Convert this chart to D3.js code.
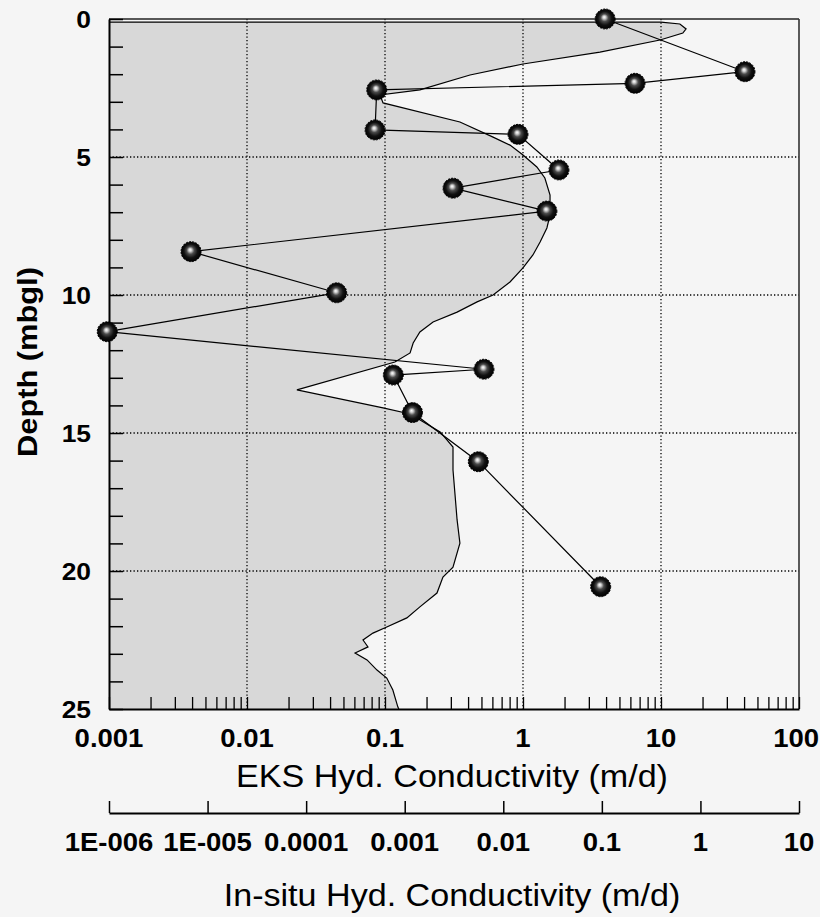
<!DOCTYPE html>
<html>
<head>
<meta charset="utf-8">
<script src="https://cdn.jsdelivr.net/npm/d3@7/dist/d3.min.js"></script>
<style>
  html, body { margin: 0; padding: 0; background: #f5f5f5; }
  svg { display: block; }
  text { font-family: "Liberation Sans", Arial, sans-serif; fill: #000; }
</style>
</head>
<body>
<svg id="chart" width="820" height="917"></svg>
<script>
// ---- Data ----
// EKS hydraulic conductivity profile (depth in m, K in m/d)
const eksDepth = [0.11, 0.18, 0.36, 0.51, 0.76, 1.20, 1.63, 2.03, 2.57, 2.75, 3.04, 3.73, 4.28, 4.57, 4.93, 5.36, 5.76, 6.38, 7.10, 7.57, 8.08, 8.55, 9.02, 9.53, 10.0, 10.25, 10.62, 10.98, 11.34, 11.74, 12.10, 12.43, 13.44, 14.09, 14.31, 14.96, 15.51, 16.34, 18.15, 18.99, 19.86, 20.22, 20.80, 21.30, 21.70, 22.03, 22.25, 22.50, 22.75, 22.97, 23.22, 23.59, 23.88, 24.31, 24.93, 25.0];
const eksK = [10.0, 13.7, 15.2, 14.4, 9.84, 3.61, 1.0, 0.413, 0.179, 0.092, 0.0968, 0.349, 0.607, 0.805, 1.0, 1.26, 1.44, 1.57, 1.57, 1.49, 1.33, 1.18, 1.0, 0.805, 0.607, 0.465, 0.333, 0.223, 0.179, 0.160, 0.152, 0.118, 0.0230, 0.0968, 0.152, 0.251, 0.311, 0.311, 0.333, 0.349, 0.311, 0.263, 0.238, 0.179, 0.144, 0.103, 0.0818, 0.0693, 0.0753, 0.0607, 0.0741, 0.0875, 0.103, 0.114, 0.124, 0.126];

// In-situ hydraulic conductivity tests (depth in m, K in m/d)
const insituDepth = [0, 1.91, 2.33, 2.57, 4.02, 4.18, 5.47, 6.13, 6.96, 8.43, 9.92, 11.33, 12.69, 12.90, 14.26, 16.04, 20.57];
const insituK = [0.108, 2.83, 0.217, 0.00052, 0.0005, 0.0141, 0.0367, 0.00309, 0.0277, 6.8e-6, 0.000204, 9.6e-7, 0.00637, 0.000766, 0.00120, 0.00558, 0.0973];

// Axis tick labels
const eksTicks = [0.001, 0.01, 0.1, 1, 10, 100];
const eksTickLabels = ["0.001", "0.01", "0.1", "1", "10", "100"];
const insituTicks = [1e-6, 1e-5, 1e-4, 1e-3, 1e-2, 1e-1, 1, 10];
const insituTickLabels = ["1E-006", "1E-005", "0.0001", "0.001", "0.01", "0.1", "1", "10"];
const depthTicks = [0, 5, 10, 15, 20, 25];
const depthTickLabels = ["0", "5", "10", "15", "20", "25"];

const xTitle = "EKS Hyd. Conductivity (m/d)";
const x2Title = "In-situ Hyd. Conductivity (m/d)";
const yTitle = "Depth (mbgl)";

// ---- Layout ----
const L = 109, R = 799, T = 19, B = 709;
const SX = 1.1; // horizontal text stretch

const svg = d3.select("#chart");
const x = d3.scaleLog().domain([0.001, 100]).range([L, R]);
const xIn = d3.scaleLog().domain([1e-6, 10]).range([L, R]);
const y = d3.scaleLinear().domain([0, 25]).range([T, B]);

// gradient for markers
const defs = svg.append("defs");
const g = defs.append("radialGradient").attr("id", "ball")
  .attr("cx", "50%").attr("cy", "50%").attr("r", "50%")
  .attr("fx", "45%").attr("fy", "40%");
[[0, "#ffffff"], [0.15, "#cfcfcf"], [0.38, "#4a4a4a"], [0.68, "#111"], [1, "#000"]]
  .forEach(([o, c]) => g.append("stop").attr("offset", o).attr("stop-color", c));

// plot background
svg.append("rect").attr("x", L).attr("y", T).attr("width", R - L).attr("height", B - T)
  .attr("fill", "#f5f5f5");

// EKS profile area
const prof = eksDepth.map((d, i) => ({ d: d, k: eksK[i] }));
const areaPts = [{ d: eksDepth[0], k: 0.001 }].concat(prof, [{ d: 25, k: 0.001 }]);
const line = d3.line().x(p => x(p.k)).y(p => y(p.d));
svg.append("path").attr("d", line(areaPts) + "Z")
  .attr("fill", "#d8d8d8").attr("stroke", "none");
svg.append("path").attr("d", line([{ d: eksDepth[0], k: 0.001 }].concat(prof)))
  .attr("fill", "none").attr("stroke", "#000").attr("stroke-width", 1.2);

// grid lines (dotted)
const grid = svg.append("g").attr("stroke", "#000").attr("stroke-width", 1.3)
  .attr("stroke-dasharray", "1.3,2.2");
grid.selectAll("line.v").data([0.01, 0.1, 1, 10]).join("line")
  .attr("x1", d => x(d)).attr("x2", d => x(d)).attr("y1", T).attr("y2", B);
grid.selectAll("line.h").data([5, 10, 15, 20]).join("line")
  .attr("x1", L).attr("x2", R).attr("y1", d => y(d)).attr("y2", d => y(d));

// frame top & right
svg.append("line").attr("x1", L).attr("x2", R).attr("y1", T).attr("y2", T)
  .attr("stroke", "#222").attr("stroke-width", 1.6);
svg.append("line").attr("x1", R).attr("x2", R).attr("y1", T).attr("y2", B)
  .attr("stroke", "#333").attr("stroke-width", 1.6);

// EKS x axis (bottom) with minor ticks inside
const minor = [];
for (let e = -3; e < 2; e++) for (let m = 1; m < 10; m++) minor.push(m * Math.pow(10, e));
minor.push(100);
const xAxis = svg.append("g").attr("transform", `translate(0,${B})`)
  .call(d3.axisBottom(x).tickValues(minor).tickSize(-12).tickSizeOuter(0).tickFormat(""));
xAxis.select(".domain").attr("stroke", "#000").attr("stroke-width", 2);
xAxis.selectAll(".tick line").attr("stroke", "#000").attr("stroke-width", 1.3);

const lastI = eksTicks.length - 1;
svg.append("g").selectAll("text").data(eksTicks).join("text")
  .attr("transform", (d, i) => i === lastI
      ? `translate(819,747) scale(${SX},1)`
      : `translate(${x(d)},747) scale(${SX},1)`)
  .attr("text-anchor", (d, i) => i === lastI ? "end" : "middle")
  .attr("font-weight", "bold").attr("font-size", 25)
  .text((d, i) => eksTickLabels[i]);

// Depth y axis (left) with minor ticks inside
const yAxis = svg.append("g").attr("transform", `translate(${L},0)`)
  .call(d3.axisLeft(y).tickValues(d3.range(0, 26)).tickSize(-14).tickSizeOuter(0).tickFormat(""));
yAxis.select(".domain").attr("stroke", "#000").attr("stroke-width", 2);
yAxis.selectAll(".tick line").attr("stroke", "#000").attr("stroke-width", 1.5);

svg.append("g").selectAll("text").data(depthTicks).join("text")
  .attr("transform", d => `translate(91,${y(d)}) scale(${SX},1)`)
  .attr("text-anchor", "end").attr("dominant-baseline", "central")
  .attr("font-weight", "bold").attr("font-size", 24)
  .text((d, i) => depthTickLabels[i]);

// second (in-situ) axis
const x2Axis = svg.append("g").attr("transform", "translate(0,813)")
  .call(d3.axisBottom(xIn).tickValues(insituTicks).tickSize(-12).tickSizeOuter(0).tickFormat(""));
x2Axis.select(".domain").attr("stroke", "#000").attr("stroke-width", 2);
x2Axis.selectAll(".tick line").attr("stroke", "#000").attr("stroke-width", 1.5);

svg.append("g").selectAll("text").data(insituTicks).join("text")
  .attr("transform", d => `translate(${xIn(d)},851) scale(${SX},1)`)
  .attr("text-anchor", "middle").attr("font-weight", "bold").attr("font-size", 25)
  .text((d, i) => insituTickLabels[i]);

// titles
svg.append("text").attr("transform", `translate(452,787) scale(${SX},1)`)
  .attr("text-anchor", "middle").attr("font-size", 31).text(xTitle);
svg.append("text").attr("transform", `translate(452,906) scale(${SX},1)`)
  .attr("text-anchor", "middle").attr("font-size", 31).text(x2Title);
svg.append("text").attr("transform", `translate(37,362) rotate(-90) scale(${SX},1)`)
  .attr("text-anchor", "middle").attr("font-weight", "bold").attr("font-size", 28)
  .text(yTitle);

// in-situ points and connecting line
const pts = insituDepth.map((d, i) => ({ d: d, k: insituK[i] }));
const line2 = d3.line().x(p => xIn(p.k)).y(p => y(p.d));
svg.append("path").attr("d", line2(pts)).attr("fill", "none")
  .attr("stroke", "#000").attr("stroke-width", 1.2);
svg.append("g").selectAll("circle").data(pts).join("circle")
  .attr("cx", p => xIn(p.k)).attr("cy", p => y(p.d)).attr("r", 10)
  .attr("fill", "url(#ball)").attr("stroke", "#000").attr("stroke-width", 1)
  .attr("stroke-dasharray", "2,1.2");
</script>
</body>
</html>
